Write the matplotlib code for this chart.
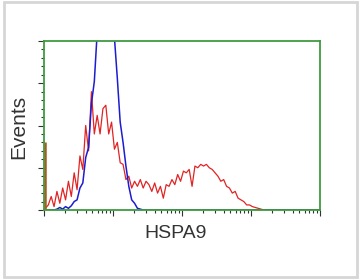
import numpy as np
import matplotlib
matplotlib.use("Agg")
import matplotlib.pyplot as plt
from matplotlib.ticker import MultipleLocator, LogLocator, NullFormatter
from matplotlib.patches import Rectangle

# histogram channels: 96 log-spaced bins over 4 decades
edges = np.logspace(0, 4, 97)
centers = np.sqrt(edges[:-1] * edges[1:])

# HSPA9 stained sample (red)
red = [1, 3, 8, 2, 11, 4, 13, 6, 17, 8,
       22, 12, 32, 24, 50, 35, 70, 45, 56, 45,
       60, 62, 45, 52, 36, 40, 28, 27, 18, 20,
       13, 17, 14, 18, 13, 17, 15, 11, 16, 10,
       14, 7, 15, 14, 18, 15, 21, 17, 23, 22,
       24, 14, 26, 25, 27, 26, 27, 25, 24, 22,
       20, 17, 18, 14, 13, 10, 11, 7, 6, 5,
       3, 3, 2, 1.5, 1, 0.5, 0, 0, 0, 0,
       0, 0, 0, 0, 0, 0, 0, 0, 0, 0,
       0, 0, 0, 0, 0, 0]

# negative control (blue)
blue = [0, 0, 0, 0, 0.5, 1.5, 0.5, 2, 1, 2.5,
        5, 6, 13, 16, 31, 37, 63, 76, 105, 115,
        120, 118, 115, 112, 102, 78, 52, 40, 26, 14,
        6, 4, 1, 0.5, 0, 0, 0, 0, 0, 0,
        0, 0, 0, 0, 0, 0, 0, 0, 0, 0,
        0, 0, 0, 0, 0, 0, 0, 0, 0, 0,
        0, 0, 0, 0, 0, 0, 0, 0, 0, 0,
        0, 0, 0, 0, 0, 0, 0, 0, 0, 0,
        0, 0, 0, 0, 0, 0, 0, 0, 0, 0,
        0, 0, 0, 0, 0, 0]

# pile-up in first channel
spike = 40

green = "#3f9b3f"

fig = plt.figure(figsize=(3.59, 2.80), dpi=100)
ax = fig.add_axes([44 / 359, 1 - 210 / 280, 276 / 359, 169 / 280])

ax.plot(centers, red, color="#e02424", lw=0.9)
ax.plot(centers, blue, color="#1c1cd0", lw=1.1)
ax.plot([1.04, 1.04], [0, spike], color="#b5561e", lw=1.8, solid_capstyle="butt")

ax.set_xscale("log")
ax.set_xlim(1, 1e4)
ax.set_ylim(0, 100)

ax.yaxis.set_major_locator(MultipleLocator(25))
ax.yaxis.set_minor_locator(MultipleLocator(5))
ax.xaxis.set_major_locator(LogLocator(base=10, numticks=10))
ax.xaxis.set_minor_locator(LogLocator(base=10, subs=np.arange(2, 10), numticks=20))
ax.xaxis.set_major_formatter(NullFormatter())
ax.xaxis.set_minor_formatter(NullFormatter())
ax.yaxis.set_major_formatter(NullFormatter())

ax.tick_params(which="both", direction="out", color="#333333", width=0.8,
               top=False, right=False)
ax.tick_params(which="major", length=4)
ax.tick_params(which="minor", length=2.5)

for s in ax.spines.values():
    s.set_color(green)
    s.set_linewidth(1.3)

fig.text(19 / 359, 1 - 127 / 280, "Events", rotation=90, ha="center", va="center",
         fontsize=15, family="Liberation Sans", color="#333333")
fig.text(176 / 359, 1 - 233 / 280, "HSPA9", ha="center", va="center",
         fontsize=14, family="Liberation Sans", color="#333333")

# light grey frame around the image
fig.patches.append(Rectangle((4 / 359, 3 / 280), 353 / 359, 275 / 280,
                             transform=fig.transFigure, fill=False,
                             edgecolor="#d6d6d6", lw=2))

fig.savefig("out.png", dpi=100)
